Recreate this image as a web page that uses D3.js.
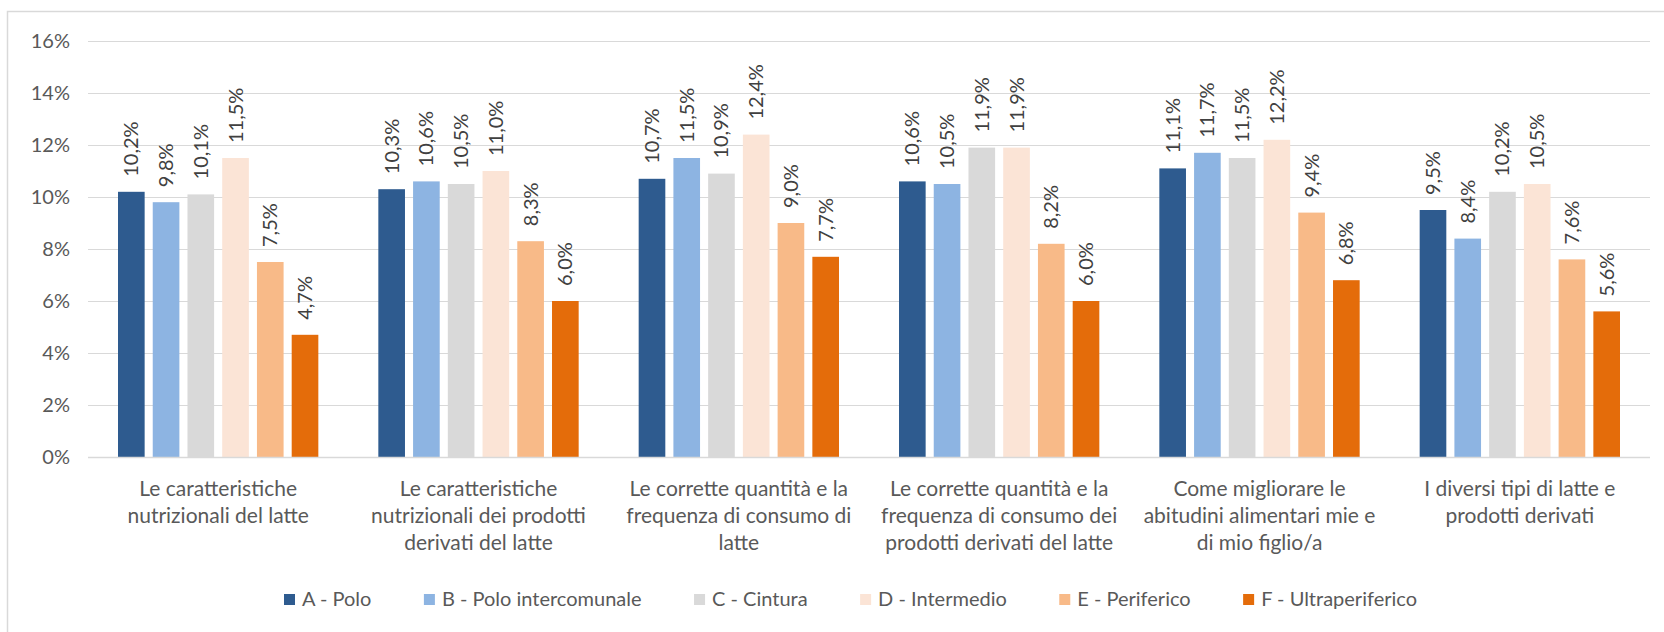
<!DOCTYPE html>
<html><head><meta charset="utf-8">
<script src="https://cdn.jsdelivr.net/npm/d3@7"></script>
<style>
html,body{margin:0;padding:0;background:#fff;}
svg{display:block;font-family:Lato, "Open Sans", sans-serif;}
</style></head>
<body>
<svg id="chart" width="1664" height="632"></svg>
<script>
const categories = [
  ["Le caratteristiche", "nutrizionali del latte"],
  ["Le caratteristiche", "nutrizionali dei prodotti", "derivati del latte"],
  ["Le corrette quantità e la", "frequenza di consumo di", "latte"],
  ["Le corrette quantità e la", "frequenza di consumo dei", "prodotti derivati del latte"],
  ["Come migliorare le", "abitudini alimentari mie e", "di mio figlio/a"],
  ["I diversi tipi di latte e", "prodotti derivati"]
];
const seriesNames = ["A - Polo", "B - Polo intercomunale", "C - Cintura", "D - Intermedio", "E - Periferico", "F - Ultraperiferico"];
const seriesColors = ["#2E5B8F", "#8DB4E2", "#D9D9D9", "#FBE4D6", "#F8BA88", "#E46C0A"];
const valuesA = [10.2, 10.3, 10.7, 10.6, 11.1, 9.5];
const valuesB = [9.8, 10.6, 11.5, 10.5, 11.7, 8.4];
const valuesC = [10.1, 10.5, 10.9, 11.9, 11.5, 10.2];
const valuesD = [11.5, 11.0, 12.4, 11.9, 12.2, 10.5];
const valuesE = [7.5, 8.3, 9.0, 8.2, 9.4, 7.6];
const valuesF = [4.7, 6.0, 7.7, 6.0, 6.8, 5.6];
const yTicks = [0, 2, 4, 6, 8, 10, 12, 14, 16];

const seriesValues = [valuesA, valuesB, valuesC, valuesD, valuesE, valuesF];
const svg = d3.select("#chart");

// frame
svg.append("rect").attr("x", 7.5).attr("y", 11.5).attr("width", 1700).attr("height", 700)
  .attr("fill", "none").attr("stroke", "#D9D9D9").attr("stroke-width", 1.5);

const plotL = 88, plotR = 1650, plotT = 41, plotB = 457;
const y = d3.scaleLinear().domain([0, 16]).range([plotB, plotT]);
const x0 = d3.scaleBand().domain(d3.range(categories.length)).range([plotL, plotR]);
const x1 = d3.scaleBand().domain(d3.range(seriesNames.length))
  .range([30, x0.bandwidth() - 30]).paddingInner(0.233).paddingOuter(0);

// gridlines + y labels
const yAxis = d3.axisLeft(y).tickValues(yTicks).tickSize(-(plotR - plotL)).tickFormat(d => d + "%");
const gy = svg.append("g").attr("transform", `translate(${plotL},0)`).call(yAxis);
gy.select(".domain").remove();
gy.selectAll(".tick line").attr("stroke", "#D9D9D9").attr("stroke-width", 1);
gy.selectAll(".tick text").attr("x", -18).attr("fill", "#595959")
  .style("font-size", "20px").style("font-family", "Lato, sans-serif");

// bars
const groups = svg.append("g").selectAll("g").data(categories).join("g")
  .attr("transform", (d, i) => `translate(${x0(i)},0)`);

groups.each(function(cat, ci) {
  const g = d3.select(this);
  seriesValues.forEach((vals, si) => {
    const v = vals[ci];
    g.append("rect")
      .attr("x", x1(si)).attr("width", x1.bandwidth())
      .attr("y", y(v)).attr("height", y(0) - y(v))
      .attr("fill", seriesColors[si]);
    const cx = x1(si) + x1.bandwidth() / 2;
    g.append("text")
      .attr("transform", `translate(${cx + 7},${y(v) - 15}) rotate(-90)`)
      .attr("text-anchor", "start")
      .attr("fill", "#404040")
      .style("font-size", "20px")
      .text(d3.format(".1f")(v).replace(".", ",") + "%");
  });
});

// baseline
svg.append("line").attr("x1", plotL).attr("x2", plotR).attr("y1", plotB + 0.5).attr("y2", plotB + 0.5)
  .attr("stroke", "#D9D9D9").attr("stroke-width", 1.5);

// category labels
const xAxis = d3.axisBottom(x0).tickSize(0).tickFormat("");
const gx = svg.append("g").attr("transform", `translate(0,${plotB})`).call(xAxis);
gx.select(".domain").remove();
gx.selectAll(".tick").each(function(d) {
  const t = d3.select(this).append("text").attr("text-anchor", "middle")
    .attr("fill", "#595959").style("font-size", "21px").style("font-family", "Lato, sans-serif");
  categories[d].forEach((line, li) => {
    t.append("tspan").attr("x", 0).attr("y", 39 + li * 27).text(line);
  });
});

// legend: sequential layout spanning reference extent
const legStart = 284, legEnd = 1417, sq = 11, sqGap = 7;
const lg = svg.append("g");
const items = seriesNames.map((n, i) => {
  const g = lg.append("g");
  g.append("rect").attr("y", 594).attr("width", sq).attr("height", sq).attr("fill", seriesColors[i]);
  const t = g.append("text").attr("x", sq + sqGap).attr("y", 606).attr("fill", "#595959")
    .style("font-size", "20px").text(n);
  return {g, w: sq + sqGap + t.node().getComputedTextLength()};
});
const totalW = d3.sum(items, d => d.w);
const gap = (legEnd - legStart - totalW) / (items.length - 1);
let cx = legStart;
items.forEach(it => { it.g.attr("transform", `translate(${cx},0)`); cx += it.w + gap; });
</script>
</body></html>
